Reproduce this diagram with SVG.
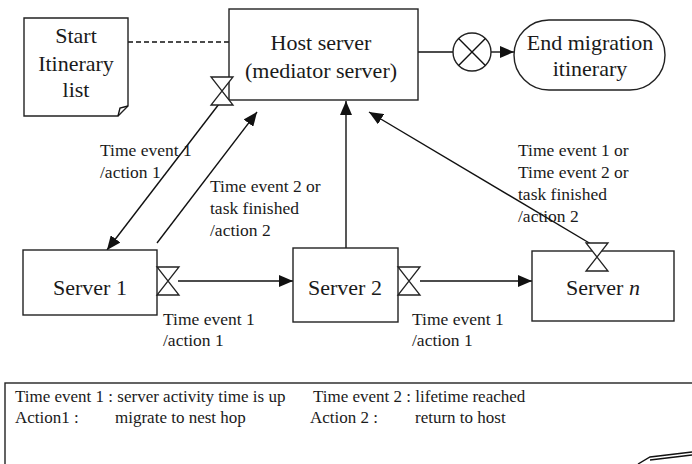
<svg xmlns="http://www.w3.org/2000/svg" width="692" height="464" viewBox="0 0 692 464">
<defs>
<marker id="ah" viewBox="0 0 14 12" refX="14" refY="6" markerWidth="14" markerHeight="12" markerUnits="userSpaceOnUse" orient="auto">
<path d="M0,0 L14,6 L0,12 Z" fill="#111"/>
</marker>
<g id="hg"><path d="M-11,-14 H11 L-11,14 H11 Z" fill="#fff" stroke="#222" stroke-width="1.3"/></g>
</defs>
<style>
.b{fill:#fff;stroke:#222;stroke-width:1.4}
.l{fill:none;stroke:#111;stroke-width:1.4}
.t{font-family:'Liberation Serif',serif;font-size:22px;fill:#1a1a1a;text-anchor:middle}
.s{font-family:'Liberation Serif',serif;font-size:17.5px;fill:#1a1a1a}
.g{font-family:'Liberation Serif',serif;font-size:17px;fill:#1a1a1a}
</style>
<rect width="692" height="464" fill="#fff"/>
<g id="connectors">
<line class="l" x1="128" y1="42" x2="229" y2="42" stroke-dasharray="5,3"/>
<line class="l" x1="418" y1="52" x2="453" y2="52"/>
<line class="l" x1="491" y1="52" x2="514" y2="52" marker-end="url(#ah)"/>
<line class="l" x1="219" y1="104" x2="107" y2="250" marker-end="url(#ah)"/>
<line class="l" x1="157" y1="243" x2="257" y2="112" marker-end="url(#ah)"/>
<line class="l" x1="346" y1="248" x2="346" y2="101" marker-end="url(#ah)"/>
<line class="l" x1="596" y1="247" x2="369" y2="112" marker-end="url(#ah)"/>
<line class="l" x1="178" y1="281" x2="293" y2="281" marker-end="url(#ah)"/>
<line class="l" x1="420" y1="281" x2="532" y2="281" marker-end="url(#ah)"/>
</g>
<g id="start">
<path class="b" d="M24,18 H128 V106 L118,116 H24 Z"/>
<path class="l" d="M118,116 L120,108 L128,106"/>
<text class="t" x="76" y="43">Start</text>
<text class="t" x="76" y="71">Itinerary</text>
<text class="t" x="76" y="97">list</text>
</g>
<g id="host">
<rect class="b" x="229" y="9" width="189" height="91"/>
<text class="t" x="321" y="50">Host server</text>
<text class="t" x="321" y="78">(mediator server)</text>
</g>
<g id="merge">
<circle class="b" cx="472" cy="52" r="19"/>
<path class="l" d="M458.6,38.6 L485.4,65.4 M485.4,38.6 L458.6,65.4"/>
</g>
<g id="end">
<rect class="b" x="514" y="20" width="151" height="70" rx="35" ry="35"/>
<text class="t" x="590" y="50">End migration</text>
<text class="t" x="590" y="76">itinerary</text>
</g>
<g id="server1">
<rect class="b" x="23" y="250" width="134" height="65"/>
<text class="t" x="90" y="295">Server 1</text>
</g>
<g id="server2">
<rect class="b" x="293" y="248" width="105" height="74"/>
<text class="t" x="345" y="295">Server 2</text>
</g>
<g id="servern">
<rect class="b" x="532" y="251" width="142" height="70"/>
<text class="t" x="603" y="295">Server <tspan font-style="italic">n</tspan></text>
</g>
<g id="timers">
<use href="#hg" x="222" y="91"/>
<use href="#hg" x="168" y="281"/>
<use href="#hg" x="409" y="281"/>
<use href="#hg" x="597" y="257"/>
</g>
<g id="labels">
<text class="s" x="100" y="156">Time event 1</text>
<text class="s" x="100" y="178">/action 1</text>
<text class="s" x="210" y="192">Time event 2 or</text>
<text class="s" x="210" y="214">task finished</text>
<text class="s" x="210" y="236">/action 2</text>
<text class="s" x="518" y="156">Time event 1 or</text>
<text class="s" x="518" y="178">Time event 2 or</text>
<text class="s" x="518" y="200">task finished</text>
<text class="s" x="518" y="222">/action 2</text>
<text class="s" x="163" y="325">Time event 1</text>
<text class="s" x="163" y="346">/action 1</text>
<text class="s" x="412" y="325">Time event 1</text>
<text class="s" x="412" y="346">/action 1</text>
</g>
<g id="legend">
<rect class="b" x="5" y="383" width="700" height="100"/>
<text class="g" x="15" y="402">Time event 1 : server activity time is up</text>
<text class="g" x="15" y="423">Action1 :</text>
<text class="g" x="115" y="423">migrate to nest hop</text>
<text class="g" x="313" y="402">Time event 2 : lifetime reached</text>
<text class="g" x="310" y="423">Action 2 :</text>
<text class="g" x="415" y="423">return to host</text>
<path class="l" d="M638,464 L650,457 L692,452 M650,460 L692,455" stroke-width="1"/>
</g>
</svg>
